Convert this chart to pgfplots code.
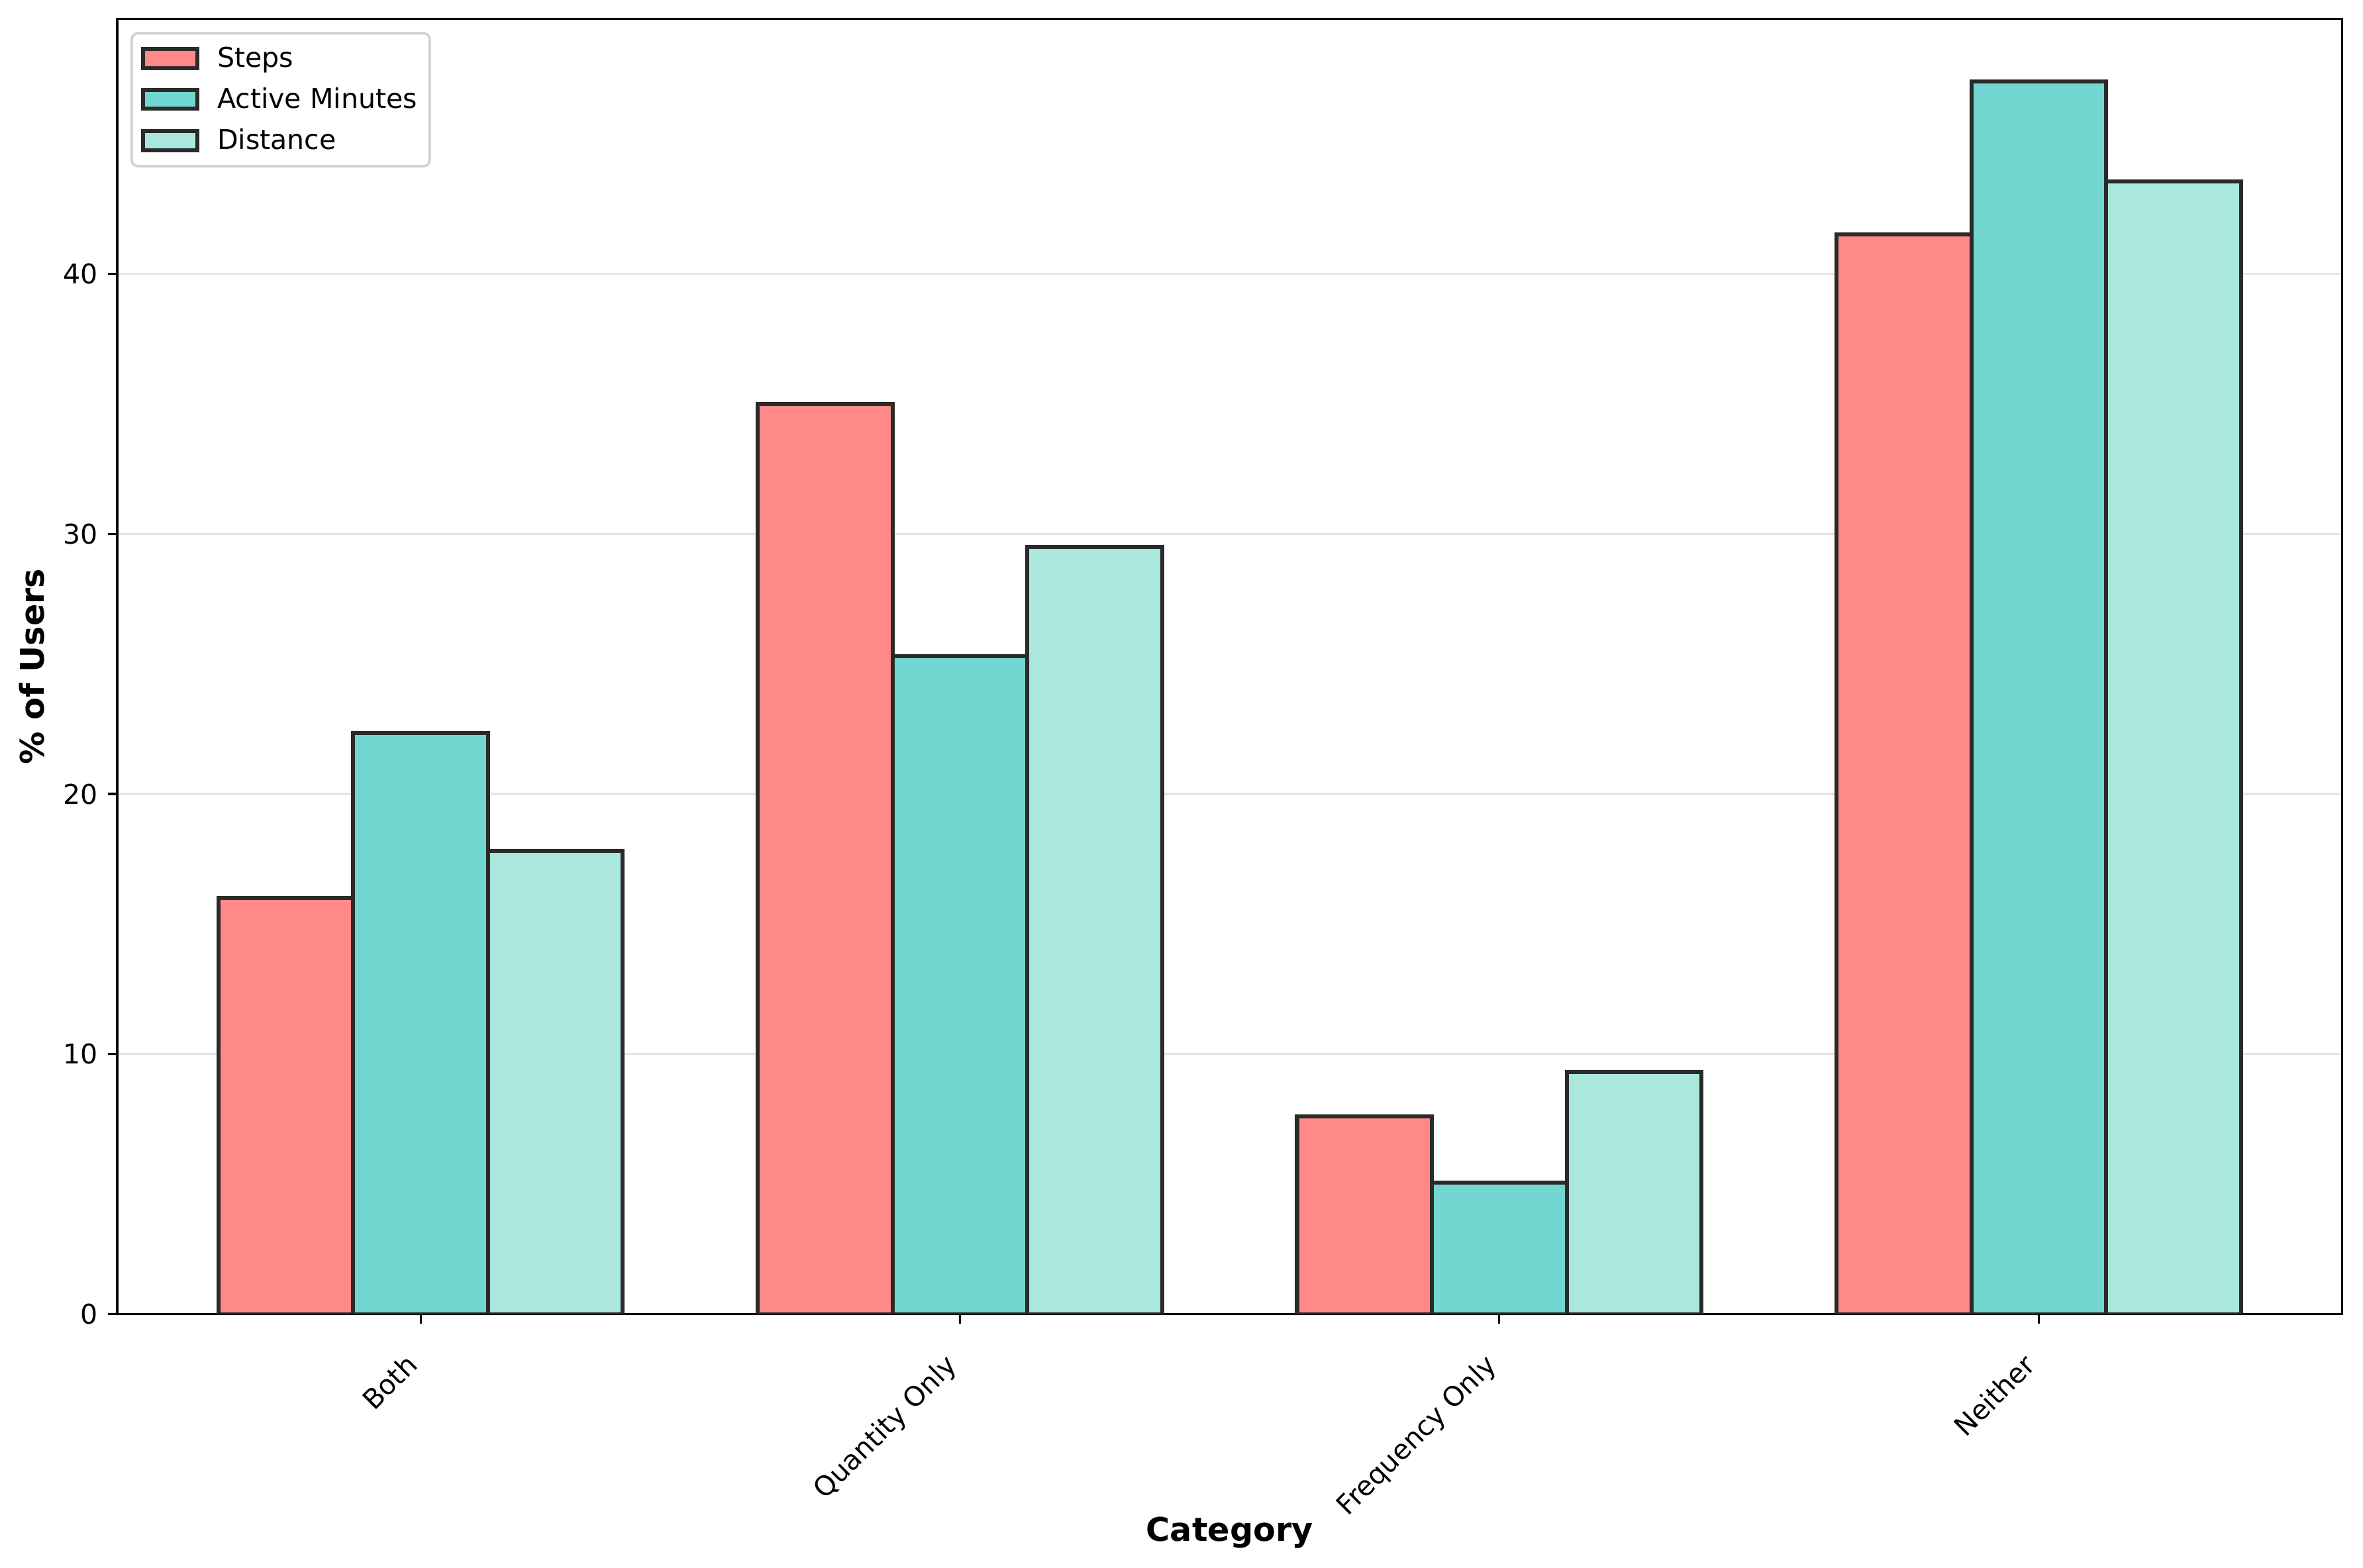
\documentclass[border=0pt]{standalone}
\usepackage{fontspec}
\setmainfont{DejaVu Sans}
\usepackage{pgfplots}
\pgfplotsset{compat=1.18}
\definecolor{cSteps}{HTML}{FF8989}
\definecolor{cActive}{HTML}{72D7D0}
\definecolor{cDist}{HTML}{AAE7DC}
\definecolor{edge}{HTML}{2A2A2A}
\begin{document}
\begin{tikzpicture}
\begin{axis}[
  scale only axis,
  width=1063pt, height=619pt,
  xmin=-0.5625, xmax=3.5625,
  ymin=0, ymax=49.8,
  xtick={0,1,2,3},
  xticklabels={Both,Quantity Only,Frequency Only,Neither},
  ytick={0,10,20,30,40},
  tick align=outside,
  tick pos=left,
  major tick length=4.5pt,
  tick style={black, line width=1pt},
  axis line style={line width=1.05pt},
  ymajorgrids,
  grid style={black!10, line width=1pt},
  /pgf/number format/assume math mode=true,
  tick label style={font=\fontsize{13}{15}\selectfont},
  y tick label style={inner sep=0pt, xshift=-4.5pt},
  x tick label style={rotate=45, anchor=north east, inner sep=0pt, xshift=-15pt, yshift=-4pt},
  xlabel={\textbf{Category}},
  ylabel={\textbf{\% of Users}},
  label style={font=\fontsize{15.6}{18}\selectfont},
  xlabel style={at={(axis description cs:0.5,-0.1688)}, anchor=center},
  ylabel style={at={(axis description cs:-0.0383,0.5)}, anchor=center},
  bar width=0.25,
  ybar=0pt,
  every axis plot/.append style={draw=edge, line width=1.9pt},
  legend image code/.code={\draw[#1, sharp corners, line width=1.9pt] (0pt,-4.5pt) rectangle (26pt,4.5pt);},
  legend style={font=\fontsize{13}{15}\selectfont, draw=black!18, line width=1.2pt,
    rounded corners=3pt,
    at={(0,1)}, xshift=6.3pt, yshift=-6.3pt, anchor=north west,
    inner xsep=4.5pt, inner ysep=5pt, row sep=5.3pt,
    nodes={inner sep=1.5pt},
    /tikz/every odd column/.style={column sep=7pt},
    legend cell align=left},
]
\addplot[fill=cSteps, bar shift=-0.25] coordinates {(0,16.0) (1,35.0) (2,7.6) (3,41.5)};
\addplot[fill=cActive, bar shift=0] coordinates {(0,22.35) (1,25.3) (2,5.05) (3,47.4)};
\addplot[fill=cDist, bar shift=0.25] coordinates {(0,17.8) (1,29.5) (2,9.3) (3,43.55)};
\legend{Steps,Active Minutes,Distance}
\end{axis}
\pgfresetboundingbox
\useasboundingbox ([shift={(-56pt,-121pt)}]current axis.south west) rectangle ([shift={(10pt,9pt)}]current axis.north east);
\end{tikzpicture}
\end{document}
